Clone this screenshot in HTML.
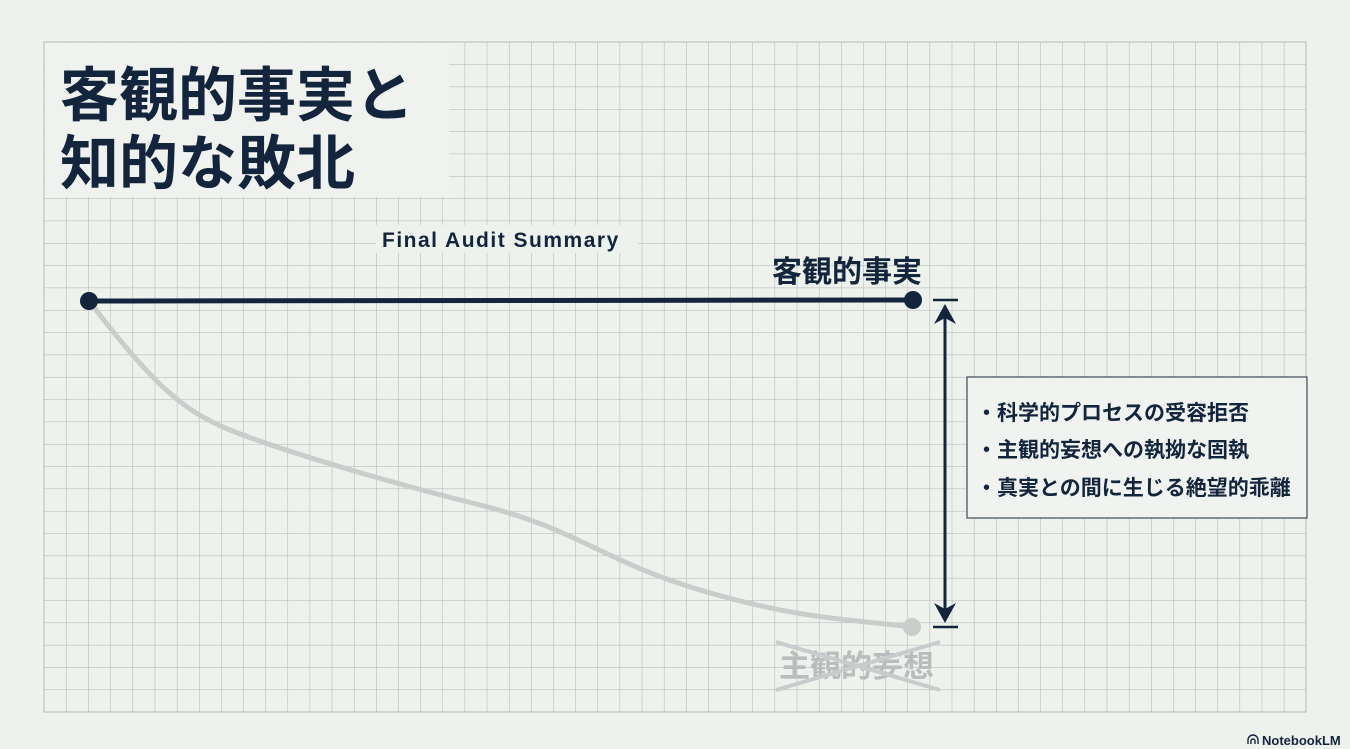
<!DOCTYPE html>
<html><head><meta charset="utf-8"><style>
html,body{margin:0;padding:0;background:#eef2ed;}
svg{display:block}
text{font-family:"Liberation Sans","Noto Sans CJK JP",sans-serif;font-weight:bold}
</style></head><body>
<svg width="1350" height="749" viewBox="0 0 1350 749" xmlns="http://www.w3.org/2000/svg">
<defs>
<pattern id="g" x="44" y="42" width="22.14" height="22.33" patternUnits="userSpaceOnUse">
<path d="M0 0V22.33M0 0H22.14" stroke="#adb3b0" stroke-width="1" fill="none"/>
</pattern>
</defs>
<rect width="1350" height="749" fill="#eef2ed"/>
<rect x="44" y="42" width="1262" height="670" fill="url(#g)" stroke="#b5bab6"/>
<rect x="45" y="43" width="404" height="154" fill="#eff2ee"/>
<text x="60" y="116" font-size="59" fill="#12253d">客観的事実と</text>
<text x="60" y="184" font-size="59" fill="#12253d">知的な敗北</text>
<rect x="376" y="225" width="262" height="28" fill="#eef2ed"/>
<text x="382" y="247" font-size="21" letter-spacing="1.5" fill="#12253d">Final Audit Summary</text>
<text x="772" y="282" font-size="30" fill="#12253d">客観的事実</text>
<path d="M89 301 C150 380 180 410 230 430 S380 480 480 505 S600 560 700 590 S860 620 912 627" stroke="#c9cdcc" stroke-width="5" fill="none"/>
<circle cx="912" cy="627" r="9" fill="#c9cdcc"/>
<line x1="89" y1="301" x2="913" y2="300" stroke="#12253d" stroke-width="5"/>
<circle cx="89" cy="301" r="9" fill="#12253d"/>
<circle cx="913" cy="300" r="9" fill="#12253d"/>
<line x1="945" y1="315" x2="945" y2="615" stroke="#12253d" stroke-width="3"/>
<line x1="933" y1="300" x2="958" y2="300" stroke="#12253d" stroke-width="2.5"/>
<line x1="933" y1="627" x2="958" y2="627" stroke="#12253d" stroke-width="2.5"/>
<path d="M934 324 L945 304 L956 324 L945 318Z" fill="#12253d"/>
<path d="M934 603 L945 623 L956 603 L945 609Z" fill="#12253d"/>
<text x="779" y="677" font-size="31" fill="#b9bdbd">主観的妄想</text>
<line x1="776" y1="642" x2="940" y2="690" stroke="#c8cccc" stroke-width="4"/>
<line x1="776" y1="690" x2="940" y2="642" stroke="#c8cccc" stroke-width="4"/>
<rect x="967" y="377" width="340" height="141" fill="#f1f3f0" stroke="#3c4a58" stroke-width="1.2"/>
<text font-size="21" fill="#12253d"><tspan x="976" y="420">・科学的プロセスの受容拒否</tspan><tspan x="976" y="457">・主観的妄想への執拗な固執</tspan><tspan x="976" y="495">・真実との間に生じる絶望的乖離</tspan></text>
<text x="1262" y="745" font-size="13" fill="#12253d" font-weight="normal">NotebookLM</text>
<path d="M1248 744 v-4 a5 5 0 0 1 10 0 v4 M1251 744 v-3 a2 2 0 0 1 4 0 v3" stroke="#12253d" stroke-width="1.4" fill="none"/>
</svg>
</body></html>
